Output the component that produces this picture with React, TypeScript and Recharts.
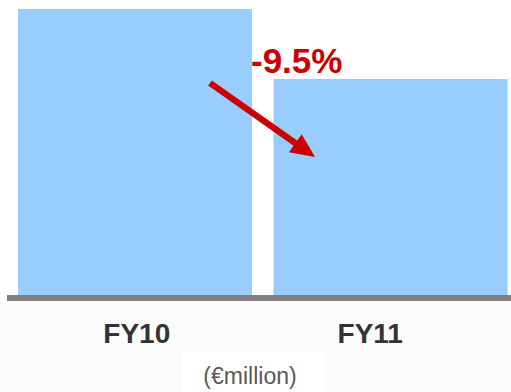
import { Bar, BarChart, XAxis, YAxis } from 'recharts'

const years = ['FY10', 'FY11']
const sales = [420, 380]
const changeLabel = '-9.5%'
const unitLabel = '(€million)'

const data = years.map((year, i) => ({ year, value: sales[i] }))

const FONT = '"Liberation Sans", Arial, Helvetica, sans-serif'

// year labels sit a little off the bar centres
const tickShift: Record<string, number> = { FY10: 2, FY11: -20 }

function YearTick(props: any) {
  const { x, y, payload } = props
  return (
    <text
      x={x + (tickShift[payload.value] ?? 0)}
      y={y + 37}
      textAnchor="middle"
      fontFamily={FONT}
      fontWeight="bold"
      fontSize={28}
      fill="#333333"
    >
      {payload.value}
    </text>
  )
}

function TrendArrow() {
  const sx = 210
  const sy = 83
  const tx = 315
  const ty = 157
  const len = Math.hypot(tx - sx, ty - sy)
  const ux = (tx - sx) / len
  const uy = (ty - sy) / len
  const nx = -uy
  const ny = ux
  const head = 24
  const headHalf = 11
  const shaft = 3.2
  const bx = tx - ux * head
  const by = ty - uy * head
  const pts = [
    [sx + nx * shaft, sy + ny * shaft],
    [bx + nx * shaft, by + ny * shaft],
    [bx + nx * headHalf, by + ny * headHalf],
    [tx, ty],
    [bx - nx * headHalf, by - ny * headHalf],
    [bx - nx * shaft, by - ny * shaft],
    [sx - nx * shaft, sy - ny * shaft],
  ]
  return <polygon points={pts.map((p) => p.join(',')).join(' ')} fill="#CC0000" />
}

export default function App() {
  return (
    <div
      style={{
        position: 'absolute',
        left: 0,
        top: 0,
        width: 511,
        height: 392,
        overflow: 'hidden',
        background: '#ffffff',
      }}
    >
      <div style={{ position: 'absolute', left: 0, top: 305, width: 511, height: 87, background: '#fbfbfb' }} />
      <div style={{ position: 'absolute', left: 182, top: 351, width: 143, height: 41, background: '#ffffff' }} />
      <div style={{ position: 'absolute', left: 0, top: 0 }}>
        <BarChart width={520} height={392} data={data} margin={{ top: 9, right: 2, bottom: 0, left: 7 }} barCategoryGap={0}>
          <YAxis hide domain={[255, 420]} allowDataOverflow />
          <XAxis
            dataKey="year"
            height={94}
            interval={0}
            axisLine={{ stroke: '#808080', strokeWidth: 6 }}
            tickLine={false}
            tick={<YearTick />}
          />
          <Bar dataKey="value" fill="#99CCFF" barSize={234} isAnimationActive={false} />
        </BarChart>
      </div>
      <svg width={511} height={392} style={{ position: 'absolute', left: 0, top: 0, pointerEvents: 'none' }}>
        <TrendArrow />
        <text x={251} y={73} fontFamily={FONT} fontWeight="bold" fontSize={35} fill="#CC0000">
          {changeLabel}
        </text>
        <text x={250} y={384} textAnchor="middle" fontFamily={FONT} fontSize={23} fill="#595959">
          {unitLabel}
        </text>
      </svg>
    </div>
  )
}
